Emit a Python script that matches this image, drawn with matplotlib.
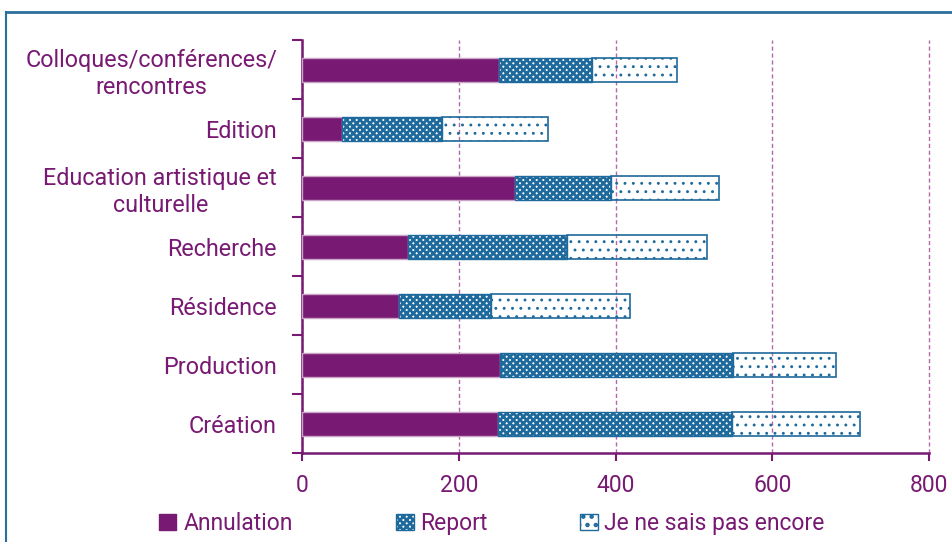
import matplotlib
matplotlib.use('Agg')
import matplotlib.pyplot as plt
from matplotlib.lines import Line2D
from matplotlib.patches import Patch

plt.rcParams['font.family'] = ['Roboto', 'DejaVu Sans']
plt.rcParams['hatch.linewidth'] = 2.0

PURPLE = '#781a73'
BLUE = '#1f6a9c'
GRID = '#b06aa8'

categories = ['Colloques/conférences/\nrencontres', 'Edition',
              'Education artistique et\nculturelle', 'Recherche',
              'Résidence', 'Production', 'Création']
annulation = [251, 51, 272, 135, 124, 253, 250]
report = [119, 128, 122, 203, 117, 297, 298]
ne_sais_pas = [108, 135, 138, 179, 177, 131, 164]
x_ticks = [0, 200, 400, 600, 800]

fig = plt.figure(figsize=(9.53, 5.42), dpi=100)
ax = fig.add_axes([0.317, 0.164, 0.658, 0.762])

ypos = list(range(len(categories)))
left2 = [a for a in annulation]
left3 = [a + r for a, r in zip(annulation, report)]


def thin_dots(patches, lw=0.9):
    # dots of the "ne sais pas" hatch are smaller than the report hatch
    for p in patches:
        if hasattr(p, 'set_hatch_linewidth'):
            p.set_hatch_linewidth(lw)


h = 0.41
ax.barh(ypos, annulation, height=h, color=PURPLE, edgecolor='#c9a3c6',
        linewidth=1, zorder=3)
ax.barh(ypos, report, left=left2, height=h, color='white', edgecolor=BLUE,
        hatch='xxxxx', linewidth=1, zorder=3)
with plt.rc_context({'hatch.linewidth': 0.9}):
    dots = ax.barh(ypos, ne_sais_pas, left=left3, height=h, color='none',
                   edgecolor=BLUE, hatch='..', linewidth=1.2, zorder=3)
thin_dots(dots)

ax.set_xlim(0, 800)
ax.set_ylim(len(categories) - 0.5, -0.5)

# y: ticks between categories, labels centered on bars
ax.set_yticks([i - 0.5 for i in range(len(categories) + 1)])
ax.set_yticklabels([])
ax.set_yticks(ypos, minor=True)
ax.set_yticklabels(categories, minor=True, multialignment='center')
ax.tick_params(axis='y', which='major', length=7, width=1.5, color=PURPLE)
ax.tick_params(axis='y', which='minor', length=0, pad=18, labelsize=16.8,
               labelcolor=PURPLE)

ax.set_xticks(x_ticks)
ax.tick_params(axis='x', length=6, width=1.5, color=PURPLE, pad=9,
               labelsize=16.5, labelcolor=PURPLE)

for s in ['top', 'right']:
    ax.spines[s].set_visible(False)
for s in ['left', 'bottom']:
    ax.spines[s].set_color(PURPLE)
    ax.spines[s].set_linewidth(1.8)

ax.xaxis.grid(True, color=GRID, linestyle=(0, (3, 2)), linewidth=1, zorder=0)
for gl in ax.get_xgridlines():
    gl.set_clip_on(False)
ax.set_axisbelow(True)

# legend, three separate entries
with plt.rc_context({'hatch.linewidth': 0.9}):
    dot_handle = Patch(facecolor='white', edgecolor=BLUE, hatch='..',
                       label='Je ne sais pas encore')
thin_dots([dot_handle])
handles = [
    Patch(facecolor=PURPLE, edgecolor=PURPLE, label='Annulation'),
    Patch(facecolor='white', edgecolor=BLUE, hatch='xxxxx', label='Report'),
    dot_handle,
]
for hnd, xp in zip(handles, [0.167, 0.416, 0.609]):
    leg = fig.legend(handles=[hnd], loc='center left', bbox_to_anchor=(xp, 0.034),
                     frameon=False, fontsize=16.5, handlelength=0.75,
                     handleheight=0.75, handletextpad=0.3, borderpad=0,
                     borderaxespad=0)
    for t in leg.get_texts():
        t.set_color(PURPLE)

# frame lines of the page
fig.add_artist(Line2D([0.006, 1.0], [0.977, 0.977], color='#2c6f9e',
                      linewidth=2, transform=fig.transFigure))
fig.add_artist(Line2D([0.0065, 0.0065], [0.0, 0.977], color='#2c6f9e',
                      linewidth=1.5, transform=fig.transFigure))

fig.savefig('out.png', dpi=100)
